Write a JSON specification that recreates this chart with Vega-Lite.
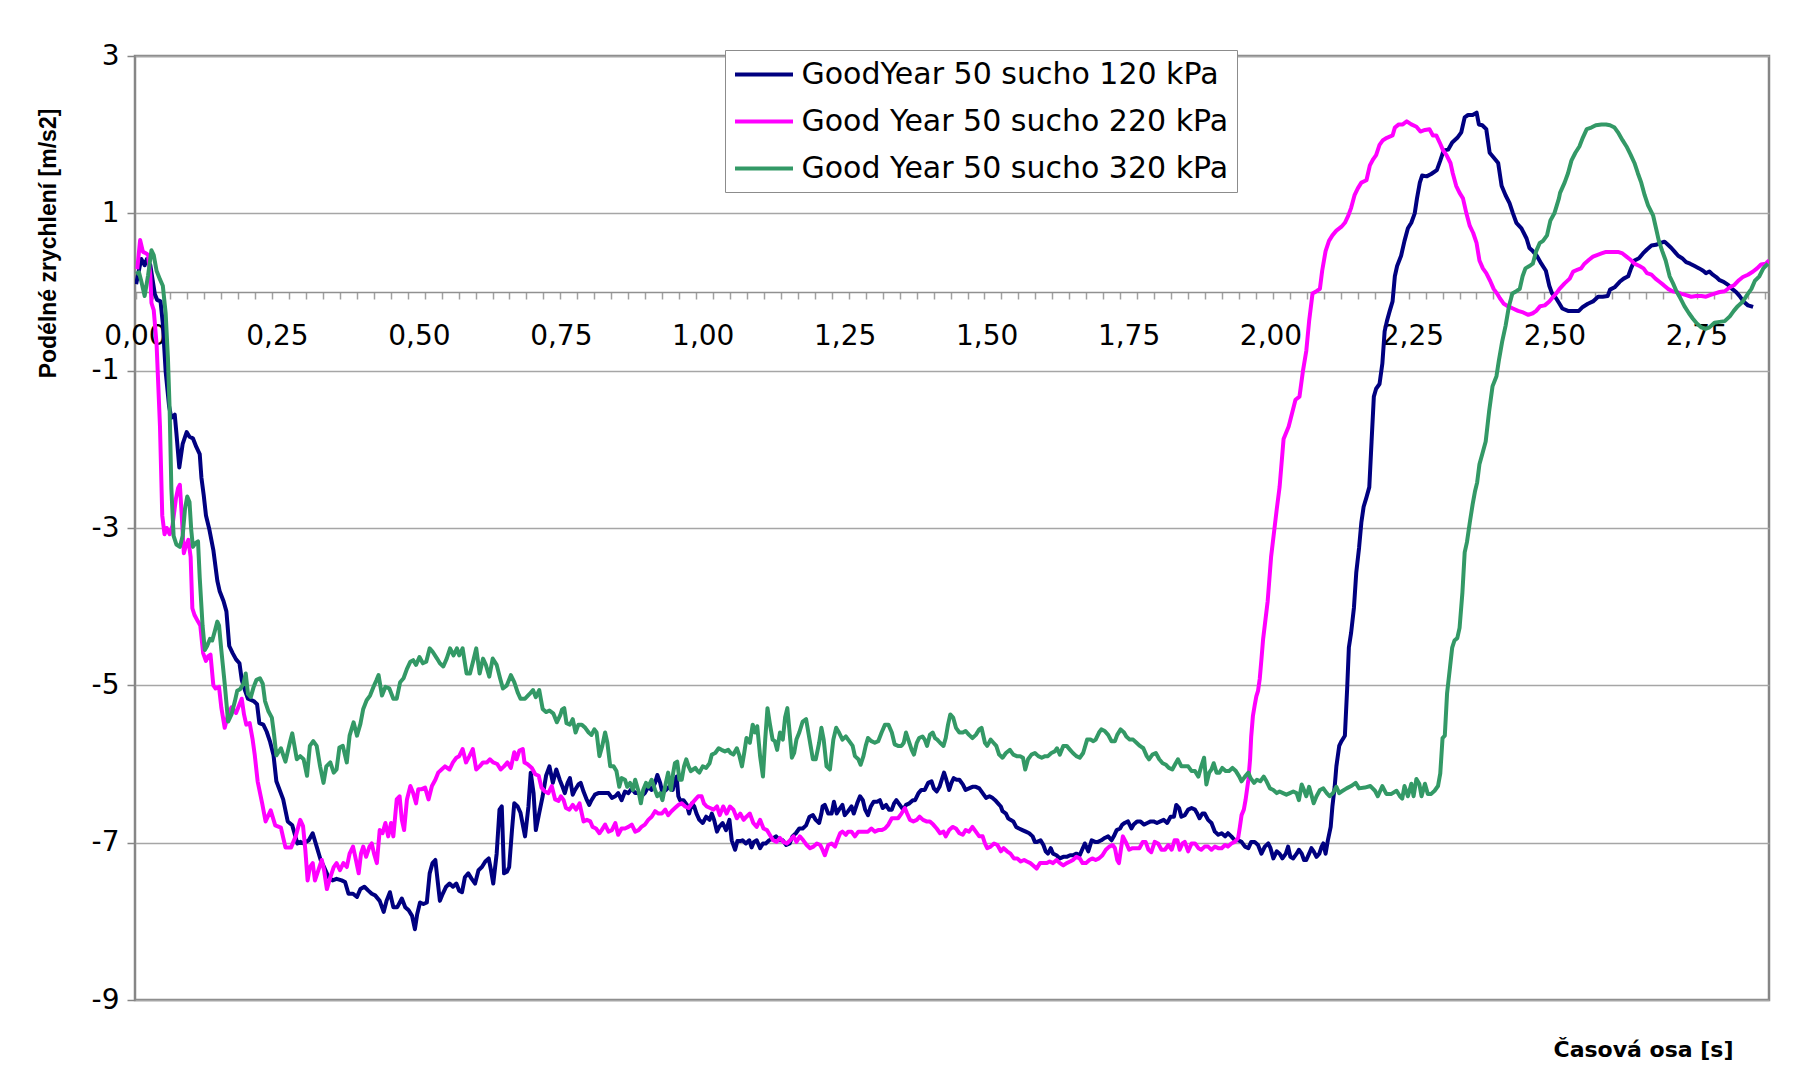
{
"$schema": "https://vega.github.io/schema/vega-lite/v6.json",
"width": 1634,
"height": 944,
"autosize": {"type": "none"},
"padding": {"left": 135, "top": 56, "right": 38, "bottom": 87},
"background": "white",
"config": {
  "view": {"stroke": "#868686", "strokeWidth": 2.5},
  "line": {"strokeWidth": 4, "clip": true, "strokeJoin": "round"}
},
"datasets": {
"a": [
{"t":0.002,"v":0.10},{"t":0.011,"v":0.42},{"t":0.017,"v":0.34},{"t":0.021,"v":0.42},{"t":0.027,"v":0.34},{"t":0.035,"v":-0.03},{"t":0.039,"v":-0.10},{"t":0.045,"v":-0.12},{"t":0.049,"v":-0.40},{"t":0.054,"v":-1.01},{"t":0.060,"v":-1.45},{"t":0.064,"v":-1.60},{"t":0.070,"v":-1.56},{"t":0.073,"v":-1.80},{"t":0.078,"v":-2.23},{"t":0.084,"v":-1.93},{"t":0.091,"v":-1.78},{"t":0.096,"v":-1.84},{"t":0.102,"v":-1.86},{"t":0.108,"v":-1.97},{"t":0.114,"v":-2.06},{"t":0.117,"v":-2.36},{"t":0.121,"v":-2.58},{"t":0.125,"v":-2.84},{"t":0.131,"v":-3.02},{"t":0.138,"v":-3.28},{"t":0.145,"v":-3.67},{"t":0.149,"v":-3.80},{"t":0.156,"v":-3.93},{"t":0.161,"v":-4.06},{"t":0.166,"v":-4.50},{"t":0.172,"v":-4.59},{"t":0.178,"v":-4.67},{"t":0.184,"v":-4.72},{"t":0.188,"v":-4.93},{"t":0.194,"v":-5.07},{"t":0.199,"v":-5.17},{"t":0.209,"v":-5.20},{"t":0.215,"v":-5.24},{"t":0.219,"v":-5.48},{"t":0.226,"v":-5.50},{"t":0.232,"v":-5.59},{"t":0.238,"v":-5.72},{"t":0.244,"v":-5.89},{"t":0.249,"v":-6.22},{"t":0.261,"v":-6.45},{"t":0.269,"v":-6.73},{"t":0.277,"v":-6.78},{"t":0.286,"v":-7.01},
{"t":0.291,"v":-6.99},{"t":0.297,"v":-7.01},{"t":0.306,"v":-6.97},{"t":0.313,"v":-6.88},{"t":0.320,"v":-7.05},{"t":0.327,"v":-7.22},{"t":0.333,"v":-7.31},{"t":0.341,"v":-7.44},{"t":0.348,"v":-7.48},{"t":0.355,"v":-7.46},{"t":0.364,"v":-7.48},{"t":0.370,"v":-7.50},{"t":0.376,"v":-7.65},{"t":0.384,"v":-7.65},{"t":0.391,"v":-7.69},{"t":0.397,"v":-7.59},{"t":0.404,"v":-7.56},{"t":0.411,"v":-7.61},{"t":0.417,"v":-7.65},{"t":0.423,"v":-7.67},{"t":0.431,"v":-7.74},{"t":0.438,"v":-7.88},{"t":0.443,"v":-7.74},{"t":0.449,"v":-7.63},{"t":0.455,"v":-7.82},{"t":0.462,"v":-7.82},{"t":0.470,"v":-7.71},{"t":0.476,"v":-7.82},{"t":0.482,"v":-7.86},{"t":0.488,"v":-7.93},{"t":0.493,"v":-8.10},{"t":0.497,"v":-7.91},{"t":0.502,"v":-7.76},{"t":0.508,"v":-7.78},{"t":0.514,"v":-7.76},{"t":0.519,"v":-7.39},{"t":0.524,"v":-7.26},{"t":0.529,"v":-7.22},{"t":0.533,"v":-7.48},{"t":0.537,"v":-7.74},{"t":0.542,"v":-7.65},{"t":0.548,"v":-7.56},{"t":0.554,"v":-7.52},{"t":0.560,"v":-7.56},{"t":0.566,"v":-7.52},{"t":0.571,"v":-7.61},{"t":0.576,"v":-7.63},{"t":0.581,"v":-7.44},{"t":0.587,"v":-7.39},{"t":0.593,"v":-7.46},{"t":0.599,"v":-7.52},{"t":0.605,"v":-7.35},{"t":0.611,"v":-7.31},{"t":0.617,"v":-7.24},{"t":0.623,"v":-7.20},{"t":0.627,"v":-7.35},{"t":0.631,"v":-7.52},{"t":0.637,"v":-7.14},{"t":0.642,"v":-6.58},{"t":0.646,"v":-6.54},{"t":0.650,"v":-7.39},{"t":0.655,"v":-7.37},{"t":0.659,"v":-7.31},{"t":0.664,"v":-6.84},{"t":0.668,"v":-6.50},{"t":0.674,"v":-6.54},{"t":0.679,"v":-6.62},{"t":0.687,"v":-6.92},{"t":0.693,"v":-6.54},{"t":0.697,"v":-6.11},{"t":0.702,"v":-6.37},{"t":0.706,"v":-6.84},{"t":0.712,"v":-6.62},{"t":0.718,"v":-6.41},{"t":0.724,"v":-6.15},{"t":0.730,"v":-6.03},{"t":0.736,"v":-6.24},{"t":0.742,"v":-6.07},{"t":0.748,"v":-6.20},
{"t":0.753,"v":-6.29},{"t":0.757,"v":-6.37},{"t":0.762,"v":-6.24},{"t":0.766,"v":-6.18},{"t":0.771,"v":-6.39},{"t":0.775,"v":-6.33},{"t":0.781,"v":-6.26},{"t":0.785,"v":-6.24},{"t":0.790,"v":-6.35},{"t":0.796,"v":-6.46},{"t":0.800,"v":-6.52},{"t":0.804,"v":-6.46},{"t":0.810,"v":-6.39},{"t":0.816,"v":-6.37},{"t":0.822,"v":-6.37},{"t":0.828,"v":-6.37},{"t":0.834,"v":-6.37},{"t":0.840,"v":-6.43},{"t":0.846,"v":-6.41},{"t":0.851,"v":-6.37},{"t":0.857,"v":-6.46},{"t":0.863,"v":-6.35},{"t":0.869,"v":-6.37},{"t":0.875,"v":-6.31},{"t":0.881,"v":-6.37},{"t":0.887,"v":-6.37},{"t":0.892,"v":-6.41},{"t":0.898,"v":-6.37},{"t":0.904,"v":-6.29},{"t":0.910,"v":-6.33},{"t":0.916,"v":-6.24},{"t":0.920,"v":-6.14},{"t":0.925,"v":-6.24},{"t":0.929,"v":-6.37},{"t":0.935,"v":-6.33},{"t":0.941,"v":-6.29},{"t":0.947,"v":-6.33},{"t":0.951,"v":-6.20},{"t":0.954,"v":-6.16},{"t":0.957,"v":-6.41},{"t":0.960,"v":-6.46},{"t":0.966,"v":-6.46},{"t":0.972,"v":-6.52},{"t":0.976,"v":-6.63},{"t":0.981,"v":-6.50},{"t":0.985,"v":-6.54},{"t":0.989,"v":-6.63},{"t":0.994,"v":-6.71},{"t":1.000,"v":-6.75},{"t":1.006,"v":-6.67},{"t":1.012,"v":-6.71},{"t":1.016,"v":-6.63},{"t":1.020,"v":-6.71},{"t":1.025,"v":-6.86},{"t":1.029,"v":-6.80},{"t":1.035,"v":-6.75},{"t":1.041,"v":-6.84},{"t":1.047,"v":-6.71},{"t":1.051,"v":-6.97},{"t":1.057,"v":-7.09},{"t":1.061,"v":-6.98},{"t":1.066,"v":-6.98},{"t":1.070,"v":-6.97},{"t":1.076,"v":-7.01},{"t":1.082,"v":-6.97},{"t":1.086,"v":-7.06},{"t":1.090,"v":-6.99},{"t":1.095,"v":-6.97},{"t":1.101,"v":-7.07},{"t":1.106,"v":-7.01},{"t":1.111,"v":-7.01},{"t":1.117,"v":-6.97},{"t":1.123,"v":-6.95},{"t":1.129,"v":-6.92},{"t":1.135,"v":-6.97},{"t":1.141,"v":-6.97},{"t":1.147,"v":-7.03},{"t":1.153,"v":-7.01},{"t":1.158,"v":-6.92},{"t":1.164,"v":-6.88},{"t":1.170,"v":-6.82},{"t":1.176,"v":-6.82},{"t":1.182,"v":-6.78},{"t":1.188,"v":-6.67},{"t":1.194,"v":-6.65},{"t":1.199,"v":-6.71},{"t":1.205,"v":-6.75},
{"t":1.209,"v":-6.63},{"t":1.211,"v":-6.54},{"t":1.215,"v":-6.52},{"t":1.221,"v":-6.63},{"t":1.227,"v":-6.63},{"t":1.231,"v":-6.48},{"t":1.236,"v":-6.63},{"t":1.240,"v":-6.58},{"t":1.246,"v":-6.52},{"t":1.250,"v":-6.65},{"t":1.256,"v":-6.60},{"t":1.262,"v":-6.54},{"t":1.266,"v":-6.63},{"t":1.272,"v":-6.50},{"t":1.277,"v":-6.41},{"t":1.282,"v":-6.46},{"t":1.286,"v":-6.58},{"t":1.291,"v":-6.65},{"t":1.296,"v":-6.54},{"t":1.301,"v":-6.48},{"t":1.307,"v":-6.48},{"t":1.312,"v":-6.46},{"t":1.317,"v":-6.56},{"t":1.323,"v":-6.52},{"t":1.328,"v":-6.58},{"t":1.333,"v":-6.58},{"t":1.337,"v":-6.50},{"t":1.341,"v":-6.46},{"t":1.347,"v":-6.52},{"t":1.353,"v":-6.58},{"t":1.358,"v":-6.52},{"t":1.364,"v":-6.50},{"t":1.370,"v":-6.46},{"t":1.374,"v":-6.46},{"t":1.380,"v":-6.37},{"t":1.385,"v":-6.33},{"t":1.391,"v":-6.33},{"t":1.397,"v":-6.24},{"t":1.403,"v":-6.22},{"t":1.407,"v":-6.31},{"t":1.412,"v":-6.35},{"t":1.417,"v":-6.29},{"t":1.421,"v":-6.20},{"t":1.425,"v":-6.11},{"t":1.429,"v":-6.20},{"t":1.434,"v":-6.33},{"t":1.438,"v":-6.24},{"t":1.442,"v":-6.18},{"t":1.447,"v":-6.20},{"t":1.452,"v":-6.20},{"t":1.458,"v":-6.26},{"t":1.463,"v":-6.33},{"t":1.469,"v":-6.31},{"t":1.475,"v":-6.29},{"t":1.481,"v":-6.29},{"t":1.487,"v":-6.31},{"t":1.493,"v":-6.37},{"t":1.499,"v":-6.43},{"t":1.505,"v":-6.41},{"t":1.510,"v":-6.43},{"t":1.515,"v":-6.46},{"t":1.520,"v":-6.50},{"t":1.525,"v":-6.54},{"t":1.528,"v":-6.60},{"t":1.534,"v":-6.63},{"t":1.538,"v":-6.69},{"t":1.542,"v":-6.71},{"t":1.547,"v":-6.73},{"t":1.552,"v":-6.80},{"t":1.557,"v":-6.82},{"t":1.563,"v":-6.84},{"t":1.569,"v":-6.86},{"t":1.575,"v":-6.88},{"t":1.581,"v":-6.92},{"t":1.585,"v":-6.99},{"t":1.589,"v":-6.99},{"t":1.595,"v":-6.97},{"t":1.600,"v":-7.03},{"t":1.604,"v":-7.11},{"t":1.608,"v":-7.14},{"t":1.613,"v":-7.07},{"t":1.617,"v":-7.14},{"t":1.623,"v":-7.16},{"t":1.629,"v":-7.20},{"t":1.635,"v":-7.18},{"t":1.641,"v":-7.18},{"t":1.647,"v":-7.16},{"t":1.652,"v":-7.16},{"t":1.658,"v":-7.14},{"t":1.664,"v":-7.16},
{"t":1.667,"v":-7.11},{"t":1.673,"v":-7.01},{"t":1.679,"v":-7.11},{"t":1.685,"v":-6.97},{"t":1.691,"v":-6.99},{"t":1.696,"v":-6.99},{"t":1.702,"v":-6.97},{"t":1.708,"v":-6.94},{"t":1.714,"v":-6.92},{"t":1.720,"v":-6.97},{"t":1.724,"v":-6.92},{"t":1.729,"v":-6.84},{"t":1.735,"v":-6.82},{"t":1.739,"v":-6.77},{"t":1.743,"v":-6.75},{"t":1.749,"v":-6.73},{"t":1.755,"v":-6.82},{"t":1.759,"v":-6.77},{"t":1.765,"v":-6.73},{"t":1.771,"v":-6.73},{"t":1.777,"v":-6.77},{"t":1.783,"v":-6.75},{"t":1.789,"v":-6.73},{"t":1.794,"v":-6.73},{"t":1.800,"v":-6.75},{"t":1.806,"v":-6.73},{"t":1.812,"v":-6.71},{"t":1.818,"v":-6.75},{"t":1.824,"v":-6.67},{"t":1.830,"v":-6.67},{"t":1.834,"v":-6.52},{"t":1.839,"v":-6.56},{"t":1.843,"v":-6.67},{"t":1.849,"v":-6.65},{"t":1.855,"v":-6.58},{"t":1.861,"v":-6.56},{"t":1.867,"v":-6.58},{"t":1.871,"v":-6.63},{"t":1.875,"v":-6.69},{"t":1.880,"v":-6.63},{"t":1.884,"v":-6.63},{"t":1.890,"v":-6.71},{"t":1.896,"v":-6.75},{"t":1.902,"v":-6.86},{"t":1.908,"v":-6.90},{"t":1.914,"v":-6.88},{"t":1.920,"v":-6.92},{"t":1.925,"v":-6.88},{"t":1.931,"v":-6.92},{"t":1.937,"v":-6.97},{"t":1.943,"v":-6.97},{"t":1.949,"v":-6.99},{"t":1.955,"v":-7.05},{"t":1.961,"v":-7.07},{"t":1.966,"v":-6.99},{"t":1.972,"v":-6.99},{"t":1.978,"v":-7.03},{"t":1.984,"v":-7.14},{"t":1.990,"v":-7.05},{"t":1.996,"v":-7.01},{"t":2.000,"v":-7.07},{"t":2.005,"v":-7.20},{"t":2.011,"v":-7.11},{"t":2.016,"v":-7.14},{"t":2.021,"v":-7.20},{"t":2.027,"v":-7.14},{"t":2.031,"v":-7.05},{"t":2.035,"v":-7.18},{"t":2.040,"v":-7.20},{"t":2.046,"v":-7.14},{"t":2.050,"v":-7.09},{"t":2.055,"v":-7.14},{"t":2.059,"v":-7.22},{"t":2.063,"v":-7.22},{"t":2.068,"v":-7.14},{"t":2.072,"v":-7.07},{"t":2.076,"v":-7.11},{"t":2.081,"v":-7.18},{"t":2.086,"v":-7.14},{"t":2.090,"v":-7.05},{"t":2.093,"v":-7.01},{"t":2.097,"v":-7.14},{"t":2.101,"v":-6.97},{"t":2.106,"v":-6.80},{"t":2.109,"v":-6.54},{"t":2.113,"v":-6.29},{"t":2.116,"v":-6.03},{"t":2.121,"v":-5.77},
{"t":2.125,"v":-5.71},{"t":2.131,"v":-5.64},{"t":2.135,"v":-5.04},{"t":2.138,"v":-4.52},{"t":2.142,"v":-4.33},{"t":2.147,"v":-4.01},{"t":2.151,"v":-3.57},{"t":2.156,"v":-3.25},{"t":2.160,"v":-2.93},{"t":2.164,"v":-2.73},{"t":2.169,"v":-2.61},{"t":2.174,"v":-2.48},{"t":2.178,"v":-1.90},{"t":2.182,"v":-1.33},{"t":2.186,"v":-1.23},{"t":2.192,"v":-1.17},{"t":2.197,"v":-0.91},{"t":2.201,"v":-0.50},{"t":2.205,"v":-0.37},{"t":2.210,"v":-0.24},{"t":2.215,"v":-0.12},{"t":2.219,"v":0.20},{"t":2.223,"v":0.33},{"t":2.230,"v":0.46},{"t":2.236,"v":0.65},{"t":2.242,"v":0.81},{"t":2.248,"v":0.88},{"t":2.254,"v":1.00},{"t":2.258,"v":1.19},{"t":2.263,"v":1.39},{"t":2.267,"v":1.48},{"t":2.275,"v":1.47},{"t":2.283,"v":1.50},{"t":2.293,"v":1.55},{"t":2.299,"v":1.67},{"t":2.305,"v":1.80},{"t":2.313,"v":1.81},{"t":2.320,"v":1.90},{"t":2.329,"v":1.96},{"t":2.336,"v":2.03},{"t":2.342,"v":2.22},{"t":2.348,"v":2.25},{"t":2.356,"v":2.25},{"t":2.363,"v":2.28},{"t":2.367,"v":2.13},{"t":2.373,"v":2.12},{"t":2.380,"v":2.07},{"t":2.386,"v":1.77},{"t":2.393,"v":1.71},{"t":2.401,"v":1.64},{"t":2.407,"v":1.35},{"t":2.414,"v":1.23},{"t":2.421,"v":1.13},{"t":2.427,"v":1.00},{"t":2.433,"v":0.88},{"t":2.442,"v":0.81},{"t":2.451,"v":0.68},{"t":2.456,"v":0.56},{"t":2.462,"v":0.52},{"t":2.469,"v":0.46},{"t":2.477,"v":0.36},{"t":2.485,"v":0.27},{"t":2.491,"v":0.08},{"t":2.496,"v":-0.02},{"t":2.503,"v":-0.08},{"t":2.509,"v":-0.15},
{"t":2.514,"v":-0.21},{"t":2.524,"v":-0.24},{"t":2.533,"v":-0.24},{"t":2.543,"v":-0.24},{"t":2.550,"v":-0.19},{"t":2.559,"v":-0.15},{"t":2.568,"v":-0.12},{"t":2.577,"v":-0.06},{"t":2.585,"v":-0.06},{"t":2.594,"v":-0.05},{"t":2.598,"v":0.03},{"t":2.606,"v":0.06},{"t":2.615,"v":0.13},{"t":2.622,"v":0.17},{"t":2.630,"v":0.20},{"t":2.635,"v":0.30},{"t":2.641,"v":0.40},{"t":2.649,"v":0.43},{"t":2.656,"v":0.49},{"t":2.663,"v":0.54},{"t":2.671,"v":0.59},{"t":2.679,"v":0.60},{"t":2.686,"v":0.62},{"t":2.694,"v":0.64},{"t":2.700,"v":0.60},{"t":2.706,"v":0.56},{"t":2.712,"v":0.51},{"t":2.718,"v":0.46},{"t":2.725,"v":0.43},{"t":2.732,"v":0.38},{"t":2.739,"v":0.36},{"t":2.747,"v":0.33},{"t":2.755,"v":0.30},{"t":2.762,"v":0.27},{"t":2.767,"v":0.24},{"t":2.773,"v":0.26},{"t":2.779,"v":0.22},{"t":2.785,"v":0.19},{"t":2.791,"v":0.15},{"t":2.798,"v":0.13},{"t":2.806,"v":0.09},{"t":2.813,"v":0.04},{"t":2.820,"v":0.00},{"t":2.826,"v":-0.05},{"t":2.833,"v":-0.12},{"t":2.841,"v":-0.17},{"t":2.850,"v":-0.19}
],
"b": [
{"t":0.004,"v":0.29},{"t":0.009,"v":0.66},{"t":0.014,"v":0.51},{"t":0.020,"v":0.49},{"t":0.023,"v":0.47},{"t":0.027,"v":0.21},{"t":0.029,"v":-0.14},{"t":0.033,"v":-0.23},{"t":0.038,"v":-0.66},{"t":0.044,"v":-1.71},{"t":0.048,"v":-2.84},{"t":0.052,"v":-3.08},{"t":0.056,"v":-3.00},{"t":0.061,"v":-3.08},{"t":0.066,"v":-2.97},{"t":0.072,"v":-2.63},{"t":0.076,"v":-2.49},{"t":0.079,"v":-2.45},{"t":0.082,"v":-2.80},{"t":0.086,"v":-3.32},{"t":0.089,"v":-3.24},{"t":0.094,"v":-3.15},{"t":0.098,"v":-3.37},{"t":0.101,"v":-4.02},{"t":0.105,"v":-4.11},{"t":0.111,"v":-4.19},{"t":0.115,"v":-4.24},{"t":0.120,"v":-4.59},{"t":0.125,"v":-4.69},{"t":0.129,"v":-4.63},{"t":0.133,"v":-4.61},{"t":0.138,"v":-5.00},{"t":0.142,"v":-5.04},{"t":0.148,"v":-5.02},{"t":0.152,"v":-5.28},{"t":0.158,"v":-5.54},{"t":0.164,"v":-5.37},{"t":0.170,"v":-5.28},{"t":0.178,"v":-5.35},{"t":0.182,"v":-5.28},{"t":0.188,"v":-5.17},{"t":0.192,"v":-5.37},{"t":0.196,"v":-5.50},{"t":0.202,"v":-5.48},{"t":0.207,"v":-5.68},{"t":0.211,"v":-5.89},{"t":0.216,"v":-6.22},{"t":0.224,"v":-6.50},{"t":0.230,"v":-6.73},{"t":0.239,"v":-6.59},{"t":0.247,"v":-6.78},{"t":0.257,"v":-6.81},{"t":0.265,"v":-7.06},{"t":0.275,"v":-7.06},{"t":0.283,"v":-6.92},
{"t":0.291,"v":-6.71},{"t":0.296,"v":-6.79},{"t":0.300,"v":-7.09},{"t":0.304,"v":-7.48},{"t":0.308,"v":-7.31},{"t":0.313,"v":-7.26},{"t":0.317,"v":-7.48},{"t":0.323,"v":-7.35},{"t":0.329,"v":-7.22},{"t":0.333,"v":-7.35},{"t":0.338,"v":-7.59},{"t":0.344,"v":-7.44},{"t":0.350,"v":-7.31},{"t":0.355,"v":-7.26},{"t":0.361,"v":-7.35},{"t":0.367,"v":-7.26},{"t":0.373,"v":-7.31},{"t":0.378,"v":-7.14},{"t":0.384,"v":-7.05},{"t":0.388,"v":-7.18},{"t":0.394,"v":-7.39},{"t":0.398,"v":-7.14},{"t":0.402,"v":-7.05},{"t":0.407,"v":-7.18},{"t":0.413,"v":-7.05},{"t":0.417,"v":-7.01},{"t":0.421,"v":-7.14},{"t":0.426,"v":-7.26},{"t":0.431,"v":-6.84},{"t":0.436,"v":-6.88},{"t":0.441,"v":-6.75},{"t":0.446,"v":-6.92},{"t":0.451,"v":-6.75},{"t":0.455,"v":-6.92},{"t":0.461,"v":-6.45},{"t":0.466,"v":-6.41},{"t":0.470,"v":-6.71},{"t":0.474,"v":-6.84},{"t":0.479,"v":-6.45},{"t":0.485,"v":-6.28},{"t":0.490,"v":-6.37},{"t":0.495,"v":-6.50},{"t":0.499,"v":-6.32},{"t":0.505,"v":-6.32},{"t":0.511,"v":-6.30},{"t":0.517,"v":-6.45},{"t":0.523,"v":-6.28},{"t":0.529,"v":-6.20},{"t":0.534,"v":-6.11},{"t":0.540,"v":-6.07},{"t":0.546,"v":-6.03},{"t":0.554,"v":-6.07},{"t":0.560,"v":-5.98},{"t":0.566,"v":-5.92},{"t":0.571,"v":-5.90},{"t":0.577,"v":-5.81},{"t":0.583,"v":-5.98},{"t":0.589,"v":-5.90},{"t":0.595,"v":-5.81},{"t":0.601,"v":-6.07},{"t":0.607,"v":-6.03},{"t":0.613,"v":-5.98},{"t":0.620,"v":-5.98},{"t":0.625,"v":-5.94},{"t":0.631,"v":-5.98},{"t":0.638,"v":-6.00},{"t":0.644,"v":-6.07},{"t":0.650,"v":-6.03},{"t":0.656,"v":-5.98},{"t":0.662,"v":-6.05},{"t":0.668,"v":-5.85},{"t":0.672,"v":-5.94},{"t":0.677,"v":-5.83},{"t":0.683,"v":-5.81},{"t":0.686,"v":-5.98},{"t":0.691,"v":-6.00},{"t":0.699,"v":-6.05},{"t":0.705,"v":-6.13},{"t":0.711,"v":-6.15},{"t":0.716,"v":-6.30},{"t":0.722,"v":-6.35},{"t":0.728,"v":-6.37},{"t":0.734,"v":-6.28},{"t":0.740,"v":-6.45},{"t":0.746,"v":-6.47},
{"t":0.750,"v":-6.41},{"t":0.755,"v":-6.46},{"t":0.759,"v":-6.56},{"t":0.765,"v":-6.58},{"t":0.771,"v":-6.52},{"t":0.777,"v":-6.58},{"t":0.783,"v":-6.50},{"t":0.787,"v":-6.63},{"t":0.790,"v":-6.73},{"t":0.796,"v":-6.71},{"t":0.802,"v":-6.73},{"t":0.806,"v":-6.80},{"t":0.812,"v":-6.82},{"t":0.818,"v":-6.88},{"t":0.822,"v":-6.84},{"t":0.828,"v":-6.77},{"t":0.834,"v":-6.86},{"t":0.840,"v":-6.84},{"t":0.846,"v":-6.75},{"t":0.851,"v":-6.90},{"t":0.857,"v":-6.82},{"t":0.863,"v":-6.82},{"t":0.869,"v":-6.80},{"t":0.875,"v":-6.77},{"t":0.881,"v":-6.86},{"t":0.887,"v":-6.84},{"t":0.892,"v":-6.80},{"t":0.898,"v":-6.77},{"t":0.904,"v":-6.71},{"t":0.910,"v":-6.67},{"t":0.916,"v":-6.60},{"t":0.922,"v":-6.63},{"t":0.928,"v":-6.63},{"t":0.934,"v":-6.58},{"t":0.939,"v":-6.65},{"t":0.945,"v":-6.60},{"t":0.951,"v":-6.56},{"t":0.957,"v":-6.52},{"t":0.963,"v":-6.50},{"t":0.969,"v":-6.54},{"t":0.975,"v":-6.56},{"t":0.981,"v":-6.50},{"t":0.986,"v":-6.46},{"t":0.992,"v":-6.41},{"t":0.998,"v":-6.41},{"t":1.002,"v":-6.50},{"t":1.007,"v":-6.54},{"t":1.013,"v":-6.56},{"t":1.019,"v":-6.58},{"t":1.025,"v":-6.54},{"t":1.030,"v":-6.65},{"t":1.036,"v":-6.54},{"t":1.042,"v":-6.63},{"t":1.048,"v":-6.54},{"t":1.054,"v":-6.58},{"t":1.060,"v":-6.69},{"t":1.066,"v":-6.63},{"t":1.072,"v":-6.71},{"t":1.077,"v":-6.67},{"t":1.083,"v":-6.63},{"t":1.089,"v":-6.75},{"t":1.095,"v":-6.80},{"t":1.101,"v":-6.71},{"t":1.107,"v":-6.82},{"t":1.113,"v":-6.84},{"t":1.118,"v":-6.90},{"t":1.124,"v":-6.97},{"t":1.130,"v":-6.99},{"t":1.136,"v":-6.94},{"t":1.142,"v":-6.99},{"t":1.148,"v":-7.01},{"t":1.154,"v":-6.97},{"t":1.160,"v":-6.92},{"t":1.165,"v":-6.99},{"t":1.171,"v":-6.92},{"t":1.177,"v":-6.97},{"t":1.183,"v":-7.03},{"t":1.189,"v":-7.07},{"t":1.195,"v":-7.05},{"t":1.201,"v":-7.01},{"t":1.207,"v":-7.03},
{"t":1.211,"v":-7.09},{"t":1.215,"v":-7.16},{"t":1.221,"v":-7.03},{"t":1.227,"v":-7.01},{"t":1.233,"v":-7.05},{"t":1.237,"v":-6.97},{"t":1.242,"v":-6.88},{"t":1.246,"v":-6.86},{"t":1.252,"v":-6.90},{"t":1.256,"v":-6.86},{"t":1.262,"v":-6.86},{"t":1.268,"v":-6.92},{"t":1.274,"v":-6.86},{"t":1.280,"v":-6.86},{"t":1.286,"v":-6.86},{"t":1.291,"v":-6.86},{"t":1.297,"v":-6.82},{"t":1.303,"v":-6.86},{"t":1.309,"v":-6.84},{"t":1.315,"v":-6.84},{"t":1.321,"v":-6.82},{"t":1.327,"v":-6.77},{"t":1.333,"v":-6.69},{"t":1.338,"v":-6.69},{"t":1.344,"v":-6.69},{"t":1.350,"v":-6.63},{"t":1.356,"v":-6.56},{"t":1.360,"v":-6.63},{"t":1.365,"v":-6.71},{"t":1.371,"v":-6.73},{"t":1.377,"v":-6.71},{"t":1.382,"v":-6.67},{"t":1.388,"v":-6.71},{"t":1.394,"v":-6.73},{"t":1.400,"v":-6.73},{"t":1.406,"v":-6.77},{"t":1.412,"v":-6.82},{"t":1.418,"v":-6.88},{"t":1.424,"v":-6.86},{"t":1.428,"v":-6.92},{"t":1.434,"v":-6.84},{"t":1.440,"v":-6.80},{"t":1.446,"v":-6.82},{"t":1.452,"v":-6.88},{"t":1.458,"v":-6.90},{"t":1.463,"v":-6.84},{"t":1.469,"v":-6.86},{"t":1.475,"v":-6.80},{"t":1.481,"v":-6.86},{"t":1.487,"v":-6.92},{"t":1.493,"v":-6.92},{"t":1.497,"v":-7.01},{"t":1.501,"v":-7.07},{"t":1.507,"v":-7.05},{"t":1.513,"v":-7.01},{"t":1.519,"v":-7.03},{"t":1.525,"v":-7.11},{"t":1.530,"v":-7.07},{"t":1.536,"v":-7.11},{"t":1.542,"v":-7.14},{"t":1.548,"v":-7.20},{"t":1.554,"v":-7.20},{"t":1.560,"v":-7.24},{"t":1.566,"v":-7.22},{"t":1.571,"v":-7.24},{"t":1.577,"v":-7.26},{"t":1.582,"v":-7.29},{"t":1.588,"v":-7.33},{"t":1.594,"v":-7.26},{"t":1.600,"v":-7.26},{"t":1.606,"v":-7.26},{"t":1.611,"v":-7.24},{"t":1.617,"v":-7.26},{"t":1.623,"v":-7.22},{"t":1.629,"v":-7.26},{"t":1.635,"v":-7.29},{"t":1.641,"v":-7.26},{"t":1.647,"v":-7.24},{"t":1.652,"v":-7.22},{"t":1.658,"v":-7.18},{"t":1.664,"v":-7.20},
{"t":1.669,"v":-7.26},{"t":1.675,"v":-7.26},{"t":1.681,"v":-7.22},{"t":1.686,"v":-7.20},{"t":1.692,"v":-7.22},{"t":1.698,"v":-7.20},{"t":1.704,"v":-7.16},{"t":1.710,"v":-7.09},{"t":1.716,"v":-7.05},{"t":1.722,"v":-7.03},{"t":1.726,"v":-7.07},{"t":1.730,"v":-7.22},{"t":1.733,"v":-7.26},{"t":1.738,"v":-7.01},{"t":1.740,"v":-6.92},{"t":1.745,"v":-6.99},{"t":1.751,"v":-7.09},{"t":1.757,"v":-7.07},{"t":1.763,"v":-7.07},{"t":1.769,"v":-7.07},{"t":1.775,"v":-6.99},{"t":1.780,"v":-6.99},{"t":1.785,"v":-7.09},{"t":1.790,"v":-7.12},{"t":1.796,"v":-6.99},{"t":1.802,"v":-7.01},{"t":1.808,"v":-7.09},{"t":1.814,"v":-7.09},{"t":1.820,"v":-7.03},{"t":1.826,"v":-7.09},{"t":1.831,"v":-6.97},{"t":1.836,"v":-6.97},{"t":1.840,"v":-7.09},{"t":1.845,"v":-7.01},{"t":1.849,"v":-6.99},{"t":1.855,"v":-7.11},{"t":1.861,"v":-7.01},{"t":1.867,"v":-7.01},{"t":1.873,"v":-7.07},{"t":1.878,"v":-7.09},{"t":1.884,"v":-7.05},{"t":1.890,"v":-7.05},{"t":1.896,"v":-7.09},{"t":1.902,"v":-7.05},{"t":1.908,"v":-7.07},{"t":1.914,"v":-7.07},{"t":1.920,"v":-7.03},{"t":1.925,"v":-7.05},{"t":1.931,"v":-7.01},{"t":1.937,"v":-6.99},{"t":1.943,"v":-6.94},{"t":1.946,"v":-6.80},{"t":1.949,"v":-6.65},{"t":1.953,"v":-6.58},{"t":1.956,"v":-6.46},{"t":1.961,"v":-6.20},{"t":1.964,"v":-5.94},{"t":1.966,"v":-5.65},{"t":1.969,"v":-5.39},{"t":1.972,"v":-5.26},{"t":1.975,"v":-5.14},{"t":1.978,"v":-5.07},{"t":1.981,"v":-4.92},{"t":1.984,"v":-4.67},{"t":1.987,"v":-4.41},{"t":1.995,"v":-3.93},{"t":2.001,"v":-3.37},{"t":2.011,"v":-2.76},{"t":2.016,"v":-2.48},{"t":2.023,"v":-1.87},{"t":2.032,"v":-1.71},{"t":2.044,"v":-1.37},
{"t":2.051,"v":-1.33},{"t":2.057,"v":-1.01},{"t":2.063,"v":-0.75},{"t":2.068,"v":-0.37},{"t":2.074,"v":-0.02},{"t":2.081,"v":0.01},{"t":2.087,"v":0.04},{"t":2.091,"v":0.27},{"t":2.097,"v":0.52},{"t":2.103,"v":0.65},{"t":2.109,"v":0.72},{"t":2.116,"v":0.78},{"t":2.125,"v":0.83},{"t":2.131,"v":0.88},{"t":2.137,"v":0.97},{"t":2.142,"v":1.07},{"t":2.148,"v":1.23},{"t":2.154,"v":1.32},{"t":2.160,"v":1.39},{"t":2.169,"v":1.42},{"t":2.175,"v":1.61},{"t":2.181,"v":1.69},{"t":2.186,"v":1.74},{"t":2.192,"v":1.87},{"t":2.198,"v":1.93},{"t":2.205,"v":1.96},{"t":2.215,"v":1.99},{"t":2.219,"v":2.09},{"t":2.226,"v":2.13},{"t":2.233,"v":2.13},{"t":2.240,"v":2.17},{"t":2.248,"v":2.13},{"t":2.257,"v":2.10},{"t":2.264,"v":2.04},{"t":2.272,"v":2.06},{"t":2.280,"v":2.07},{"t":2.286,"v":1.99},{"t":2.292,"v":1.99},{"t":2.298,"v":1.90},{"t":2.304,"v":1.80},{"t":2.310,"v":1.74},{"t":2.317,"v":1.64},{"t":2.321,"v":1.51},{"t":2.327,"v":1.35},{"t":2.333,"v":1.26},{"t":2.339,"v":1.19},{"t":2.345,"v":1.00},{"t":2.351,"v":0.84},{"t":2.357,"v":0.75},{"t":2.363,"v":0.62},{"t":2.368,"v":0.40},{"t":2.374,"v":0.30},{"t":2.380,"v":0.24},{"t":2.387,"v":0.14},{"t":2.393,"v":0.04},{"t":2.399,"v":-0.02},{"t":2.404,"v":-0.08},{"t":2.411,"v":-0.15},{"t":2.418,"v":-0.18},{"t":2.427,"v":-0.21},{"t":2.436,"v":-0.24},{"t":2.445,"v":-0.26},{"t":2.454,"v":-0.29},{"t":2.462,"v":-0.27},{"t":2.468,"v":-0.24},{"t":2.475,"v":-0.18},{"t":2.483,"v":-0.17},{"t":2.491,"v":-0.12},{"t":2.498,"v":-0.06},{"t":2.503,"v":-0.02},{"t":2.509,"v":0.04},
{"t":2.518,"v":0.11},{"t":2.527,"v":0.17},{"t":2.533,"v":0.26},{"t":2.540,"v":0.28},{"t":2.547,"v":0.30},{"t":2.553,"v":0.36},{"t":2.561,"v":0.41},{"t":2.568,"v":0.45},{"t":2.575,"v":0.47},{"t":2.583,"v":0.49},{"t":2.591,"v":0.51},{"t":2.600,"v":0.51},{"t":2.612,"v":0.51},{"t":2.620,"v":0.49},{"t":2.627,"v":0.45},{"t":2.634,"v":0.41},{"t":2.641,"v":0.36},{"t":2.650,"v":0.33},{"t":2.657,"v":0.30},{"t":2.663,"v":0.24},{"t":2.671,"v":0.22},{"t":2.678,"v":0.17},{"t":2.685,"v":0.13},{"t":2.692,"v":0.09},{"t":2.700,"v":0.04},{"t":2.708,"v":0.01},{"t":2.715,"v":0.00},{"t":2.723,"v":-0.02},{"t":2.732,"v":-0.04},{"t":2.741,"v":-0.06},{"t":2.750,"v":-0.05},{"t":2.759,"v":-0.05},{"t":2.767,"v":-0.06},{"t":2.774,"v":-0.04},{"t":2.782,"v":-0.02},{"t":2.791,"v":0.00},{"t":2.800,"v":0.01},{"t":2.809,"v":0.06},{"t":2.817,"v":0.09},{"t":2.825,"v":0.15},{"t":2.832,"v":0.19},{"t":2.841,"v":0.22},{"t":2.850,"v":0.26},{"t":2.857,"v":0.30},{"t":2.864,"v":0.35},{"t":2.872,"v":0.36},{"t":2.878,"v":0.40}
],
"c": [
{"t":0.002,"v":0.23},{"t":0.007,"v":0.25},{"t":0.011,"v":0.14},{"t":0.017,"v":-0.05},{"t":0.023,"v":0.21},{"t":0.029,"v":0.53},{"t":0.033,"v":0.47},{"t":0.038,"v":0.27},{"t":0.044,"v":0.16},{"t":0.049,"v":0.08},{"t":0.054,"v":-0.27},{"t":0.058,"v":-0.84},{"t":0.061,"v":-1.49},{"t":0.064,"v":-2.49},{"t":0.068,"v":-3.10},{"t":0.073,"v":-3.21},{"t":0.079,"v":-3.24},{"t":0.084,"v":-3.10},{"t":0.088,"v":-2.76},{"t":0.092,"v":-2.60},{"t":0.096,"v":-2.67},{"t":0.099,"v":-3.02},{"t":0.102,"v":-3.24},{"t":0.107,"v":-3.19},{"t":0.111,"v":-3.17},{"t":0.114,"v":-3.63},{"t":0.119,"v":-4.24},{"t":0.123,"v":-4.55},{"t":0.127,"v":-4.50},{"t":0.132,"v":-4.41},{"t":0.136,"v":-4.43},{"t":0.141,"v":-4.30},{"t":0.145,"v":-4.19},{"t":0.148,"v":-4.24},{"t":0.152,"v":-4.55},{"t":0.158,"v":-4.98},{"t":0.164,"v":-5.46},{"t":0.170,"v":-5.37},{"t":0.176,"v":-5.20},{"t":0.180,"v":-5.07},{"t":0.185,"v":-5.05},{"t":0.191,"v":-4.98},{"t":0.195,"v":-4.85},{"t":0.199,"v":-5.11},{"t":0.204,"v":-5.15},{"t":0.209,"v":-5.02},{"t":0.214,"v":-4.93},{"t":0.220,"v":-4.91},{"t":0.225,"v":-4.98},{"t":0.229,"v":-5.20},{"t":0.235,"v":-5.33},{"t":0.241,"v":-5.41},{"t":0.245,"v":-5.63},{"t":0.249,"v":-5.89},{"t":0.257,"v":-5.80},{"t":0.265,"v":-5.97},{"t":0.273,"v":-5.72},{"t":0.277,"v":-5.61},{"t":0.285,"v":-5.94},
{"t":0.291,"v":-5.90},{"t":0.297,"v":-5.94},{"t":0.303,"v":-6.15},{"t":0.308,"v":-5.77},{"t":0.314,"v":-5.71},{"t":0.320,"v":-5.77},{"t":0.326,"v":-6.03},{"t":0.332,"v":-6.24},{"t":0.337,"v":-6.03},{"t":0.344,"v":-5.98},{"t":0.350,"v":-6.11},{"t":0.355,"v":-6.07},{"t":0.360,"v":-5.79},{"t":0.366,"v":-5.77},{"t":0.373,"v":-5.98},{"t":0.378,"v":-5.64},{"t":0.385,"v":-5.47},{"t":0.391,"v":-5.64},{"t":0.397,"v":-5.49},{"t":0.402,"v":-5.30},{"t":0.408,"v":-5.19},{"t":0.414,"v":-5.13},{"t":0.420,"v":-5.02},{"t":0.425,"v":-4.94},{"t":0.429,"v":-4.87},{"t":0.435,"v":-5.13},{"t":0.441,"v":-5.02},{"t":0.448,"v":-5.04},{"t":0.455,"v":-5.17},{"t":0.461,"v":-5.17},{"t":0.467,"v":-4.96},{"t":0.473,"v":-4.91},{"t":0.479,"v":-4.79},{"t":0.485,"v":-4.70},{"t":0.490,"v":-4.68},{"t":0.495,"v":-4.74},{"t":0.501,"v":-4.64},{"t":0.507,"v":-4.72},{"t":0.513,"v":-4.70},{"t":0.519,"v":-4.53},{"t":0.524,"v":-4.57},{"t":0.532,"v":-4.66},{"t":0.537,"v":-4.72},{"t":0.543,"v":-4.76},{"t":0.549,"v":-4.66},{"t":0.555,"v":-4.53},{"t":0.561,"v":-4.62},{"t":0.567,"v":-4.53},{"t":0.571,"v":-4.62},{"t":0.577,"v":-4.53},{"t":0.584,"v":-4.85},{"t":0.590,"v":-4.85},{"t":0.596,"v":-4.68},{"t":0.601,"v":-4.53},{"t":0.607,"v":-4.85},{"t":0.613,"v":-4.66},{"t":0.618,"v":-4.74},{"t":0.624,"v":-4.89},{"t":0.630,"v":-4.66},{"t":0.637,"v":-4.74},{"t":0.643,"v":-4.91},{"t":0.648,"v":-5.04},{"t":0.655,"v":-5.00},{"t":0.662,"v":-4.87},{"t":0.668,"v":-4.96},{"t":0.674,"v":-5.09},{"t":0.679,"v":-5.17},{"t":0.687,"v":-5.17},{"t":0.695,"v":-5.11},{"t":0.701,"v":-5.06},{"t":0.706,"v":-5.15},{"t":0.712,"v":-5.06},{"t":0.718,"v":-5.30},{"t":0.724,"v":-5.34},{"t":0.730,"v":-5.32},{"t":0.737,"v":-5.36},{"t":0.743,"v":-5.47},{"t":0.749,"v":-5.38},
{"t":0.752,"v":-5.31},{"t":0.756,"v":-5.29},{"t":0.760,"v":-5.48},{"t":0.766,"v":-5.50},{"t":0.771,"v":-5.43},{"t":0.776,"v":-5.60},{"t":0.781,"v":-5.50},{"t":0.787,"v":-5.50},{"t":0.793,"v":-5.54},{"t":0.799,"v":-5.60},{"t":0.804,"v":-5.63},{"t":0.809,"v":-5.56},{"t":0.813,"v":-5.60},{"t":0.818,"v":-5.90},{"t":0.823,"v":-5.77},{"t":0.828,"v":-5.60},{"t":0.832,"v":-5.73},{"t":0.837,"v":-6.03},{"t":0.843,"v":-6.03},{"t":0.848,"v":-6.09},{"t":0.853,"v":-6.29},{"t":0.857,"v":-6.18},{"t":0.863,"v":-6.20},{"t":0.867,"v":-6.29},{"t":0.872,"v":-6.24},{"t":0.877,"v":-6.33},{"t":0.881,"v":-6.20},{"t":0.887,"v":-6.35},{"t":0.891,"v":-6.50},{"t":0.895,"v":-6.33},{"t":0.900,"v":-6.24},{"t":0.904,"v":-6.29},{"t":0.910,"v":-6.20},{"t":0.916,"v":-6.33},{"t":0.920,"v":-6.41},{"t":0.925,"v":-6.37},{"t":0.929,"v":-6.46},{"t":0.935,"v":-6.24},{"t":0.939,"v":-6.11},{"t":0.944,"v":-6.33},{"t":0.948,"v":-6.11},{"t":0.951,"v":-5.99},{"t":0.955,"v":-5.97},{"t":0.959,"v":-6.20},{"t":0.963,"v":-6.20},{"t":0.967,"v":-6.03},{"t":0.971,"v":-5.94},{"t":0.975,"v":-6.03},{"t":0.979,"v":-6.09},{"t":0.983,"v":-6.07},{"t":0.987,"v":-6.05},{"t":0.991,"v":-6.09},{"t":0.994,"v":-6.11},{"t":1.000,"v":-6.03},{"t":1.006,"v":-6.05},{"t":1.012,"v":-5.99},{"t":1.016,"v":-5.88},{"t":1.022,"v":-5.86},{"t":1.028,"v":-5.80},{"t":1.033,"v":-5.82},{"t":1.039,"v":-5.84},{"t":1.045,"v":-5.82},{"t":1.049,"v":-5.86},{"t":1.054,"v":-5.88},{"t":1.060,"v":-5.80},{"t":1.064,"v":-5.88},{"t":1.069,"v":-6.03},{"t":1.073,"v":-5.86},{"t":1.077,"v":-5.67},{"t":1.083,"v":-5.73},{"t":1.088,"v":-5.50},{"t":1.092,"v":-5.60},{"t":1.096,"v":-5.52},{"t":1.101,"v":-5.90},{"t":1.106,"v":-6.16},{"t":1.110,"v":-5.69},{"t":1.114,"v":-5.29},{"t":1.118,"v":-5.48},{"t":1.123,"v":-5.69},{"t":1.127,"v":-5.71},{"t":1.131,"v":-5.82},{"t":1.136,"v":-5.60},{"t":1.141,"v":-5.69},{"t":1.145,"v":-5.41},{"t":1.149,"v":-5.29},{"t":1.153,"v":-5.60},{"t":1.157,"v":-5.92},{"t":1.161,"v":-5.86},{"t":1.165,"v":-5.69},{"t":1.170,"v":-5.60},{"t":1.176,"v":-5.46},{"t":1.182,"v":-5.43},{"t":1.186,"v":-5.60},{"t":1.190,"v":-5.77},{"t":1.194,"v":-5.94},{"t":1.199,"v":-5.94},{"t":1.205,"v":-5.73},
{"t":1.209,"v":-5.54},{"t":1.213,"v":-5.69},{"t":1.218,"v":-6.03},{"t":1.224,"v":-6.07},{"t":1.230,"v":-5.69},{"t":1.235,"v":-5.54},{"t":1.240,"v":-5.60},{"t":1.246,"v":-5.69},{"t":1.252,"v":-5.65},{"t":1.258,"v":-5.71},{"t":1.264,"v":-5.77},{"t":1.268,"v":-5.90},{"t":1.274,"v":-5.94},{"t":1.278,"v":-6.01},{"t":1.283,"v":-5.90},{"t":1.287,"v":-5.77},{"t":1.291,"v":-5.67},{"t":1.297,"v":-5.71},{"t":1.303,"v":-5.73},{"t":1.309,"v":-5.71},{"t":1.315,"v":-5.60},{"t":1.321,"v":-5.50},{"t":1.327,"v":-5.50},{"t":1.333,"v":-5.60},{"t":1.338,"v":-5.75},{"t":1.344,"v":-5.77},{"t":1.350,"v":-5.77},{"t":1.354,"v":-5.73},{"t":1.358,"v":-5.60},{"t":1.362,"v":-5.69},{"t":1.368,"v":-5.82},{"t":1.372,"v":-5.88},{"t":1.377,"v":-5.73},{"t":1.381,"v":-5.67},{"t":1.387,"v":-5.65},{"t":1.391,"v":-5.69},{"t":1.395,"v":-5.77},{"t":1.400,"v":-5.63},{"t":1.405,"v":-5.60},{"t":1.409,"v":-5.67},{"t":1.413,"v":-5.69},{"t":1.418,"v":-5.73},{"t":1.424,"v":-5.77},{"t":1.428,"v":-5.67},{"t":1.432,"v":-5.50},{"t":1.436,"v":-5.37},{"t":1.441,"v":-5.41},{"t":1.446,"v":-5.54},{"t":1.452,"v":-5.60},{"t":1.458,"v":-5.60},{"t":1.463,"v":-5.58},{"t":1.469,"v":-5.63},{"t":1.475,"v":-5.67},{"t":1.481,"v":-5.63},{"t":1.487,"v":-5.56},{"t":1.491,"v":-5.54},{"t":1.497,"v":-5.73},{"t":1.501,"v":-5.77},{"t":1.507,"v":-5.69},{"t":1.512,"v":-5.73},{"t":1.517,"v":-5.77},{"t":1.522,"v":-5.88},{"t":1.528,"v":-5.92},{"t":1.534,"v":-5.86},{"t":1.541,"v":-5.82},{"t":1.547,"v":-5.88},{"t":1.553,"v":-5.90},{"t":1.559,"v":-5.90},{"t":1.564,"v":-5.92},{"t":1.568,"v":-6.07},{"t":1.573,"v":-5.94},{"t":1.579,"v":-5.88},{"t":1.585,"v":-5.86},{"t":1.591,"v":-5.90},{"t":1.597,"v":-5.92},{"t":1.603,"v":-5.90},{"t":1.608,"v":-5.90},{"t":1.614,"v":-5.86},{"t":1.620,"v":-5.84},{"t":1.624,"v":-5.80},{"t":1.629,"v":-5.88},{"t":1.635,"v":-5.77},{"t":1.641,"v":-5.77},{"t":1.647,"v":-5.82},{"t":1.652,"v":-5.86},{"t":1.658,"v":-5.90},{"t":1.664,"v":-5.92},
{"t":1.670,"v":-5.86},{"t":1.677,"v":-5.69},{"t":1.683,"v":-5.69},{"t":1.688,"v":-5.71},{"t":1.692,"v":-5.69},{"t":1.698,"v":-5.60},{"t":1.702,"v":-5.56},{"t":1.708,"v":-5.58},{"t":1.714,"v":-5.63},{"t":1.720,"v":-5.71},{"t":1.726,"v":-5.71},{"t":1.730,"v":-5.63},{"t":1.736,"v":-5.56},{"t":1.742,"v":-5.60},{"t":1.746,"v":-5.65},{"t":1.752,"v":-5.69},{"t":1.758,"v":-5.69},{"t":1.764,"v":-5.73},{"t":1.770,"v":-5.77},{"t":1.776,"v":-5.80},{"t":1.782,"v":-5.90},{"t":1.786,"v":-5.94},{"t":1.792,"v":-5.88},{"t":1.798,"v":-5.86},{"t":1.804,"v":-5.94},{"t":1.810,"v":-5.99},{"t":1.816,"v":-6.01},{"t":1.821,"v":-6.05},{"t":1.827,"v":-6.07},{"t":1.833,"v":-5.99},{"t":1.837,"v":-5.94},{"t":1.843,"v":-6.03},{"t":1.849,"v":-6.03},{"t":1.855,"v":-6.03},{"t":1.861,"v":-6.09},{"t":1.867,"v":-6.09},{"t":1.873,"v":-6.16},{"t":1.878,"v":-6.03},{"t":1.883,"v":-5.92},{"t":1.887,"v":-6.26},{"t":1.892,"v":-6.11},{"t":1.896,"v":-6.07},{"t":1.900,"v":-5.99},{"t":1.905,"v":-6.11},{"t":1.910,"v":-6.11},{"t":1.915,"v":-6.05},{"t":1.921,"v":-6.09},{"t":1.927,"v":-6.09},{"t":1.933,"v":-6.05},{"t":1.939,"v":-6.09},{"t":1.945,"v":-6.16},{"t":1.949,"v":-6.22},{"t":1.955,"v":-6.16},{"t":1.961,"v":-6.11},{"t":1.965,"v":-6.18},{"t":1.971,"v":-6.24},{"t":1.976,"v":-6.20},{"t":1.982,"v":-6.22},{"t":1.988,"v":-6.16},{"t":1.993,"v":-6.22},{"t":1.999,"v":-6.31},{"t":2.005,"v":-6.33},{"t":2.011,"v":-6.37},{"t":2.016,"v":-6.35},{"t":2.022,"v":-6.37},{"t":2.028,"v":-6.39},{"t":2.034,"v":-6.37},{"t":2.040,"v":-6.35},{"t":2.046,"v":-6.37},{"t":2.050,"v":-6.46},{"t":2.055,"v":-6.26},{"t":2.059,"v":-6.33},{"t":2.063,"v":-6.41},{"t":2.068,"v":-6.29},{"t":2.072,"v":-6.39},{"t":2.076,"v":-6.50},{"t":2.081,"v":-6.41},{"t":2.087,"v":-6.33},{"t":2.093,"v":-6.31},{"t":2.099,"v":-6.37},{"t":2.104,"v":-6.41},{"t":2.110,"v":-6.37},{"t":2.116,"v":-6.29},{"t":2.121,"v":-6.37},
{"t":2.125,"v":-6.35},{"t":2.134,"v":-6.31},{"t":2.142,"v":-6.28},{"t":2.150,"v":-6.24},{"t":2.156,"v":-6.31},{"t":2.166,"v":-6.30},{"t":2.176,"v":-6.28},{"t":2.184,"v":-6.34},{"t":2.189,"v":-6.41},{"t":2.197,"v":-6.28},{"t":2.204,"v":-6.38},{"t":2.213,"v":-6.38},{"t":2.222,"v":-6.34},{"t":2.228,"v":-6.41},{"t":2.232,"v":-6.44},{"t":2.236,"v":-6.28},{"t":2.242,"v":-6.41},{"t":2.248,"v":-6.25},{"t":2.252,"v":-6.41},{"t":2.257,"v":-6.19},{"t":2.262,"v":-6.25},{"t":2.266,"v":-6.41},{"t":2.272,"v":-6.25},{"t":2.277,"v":-6.38},{"t":2.283,"v":-6.38},{"t":2.289,"v":-6.34},{"t":2.295,"v":-6.28},{"t":2.299,"v":-6.12},{"t":2.303,"v":-5.67},{"t":2.307,"v":-5.64},{"t":2.311,"v":-5.10},{"t":2.316,"v":-4.78},{"t":2.320,"v":-4.52},{"t":2.324,"v":-4.43},{"t":2.329,"v":-4.40},{"t":2.333,"v":-4.27},{"t":2.338,"v":-3.82},{"t":2.342,"v":-3.31},{"t":2.346,"v":-3.18},{"t":2.351,"v":-2.93},{"t":2.356,"v":-2.70},{"t":2.360,"v":-2.54},{"t":2.364,"v":-2.42},{"t":2.368,"v":-2.19},{"t":2.373,"v":-2.06},{"t":2.379,"v":-1.90},{"t":2.385,"v":-1.52},{"t":2.391,"v":-1.20},{"t":2.398,"v":-1.07},{"t":2.402,"v":-0.88},{"t":2.408,"v":-0.63},{"t":2.414,"v":-0.43},{"t":2.420,"v":-0.18},{"t":2.426,"v":-0.02},{"t":2.433,"v":0.01},{"t":2.439,"v":0.04},{"t":2.444,"v":0.20},{"t":2.449,"v":0.30},{"t":2.456,"v":0.33},{"t":2.462,"v":0.36},{"t":2.468,"v":0.52},{"t":2.474,"v":0.62},{"t":2.480,"v":0.65},{"t":2.487,"v":0.72},{"t":2.493,"v":0.91},{"t":2.500,"v":1.00},{"t":2.508,"v":1.19},
{"t":2.510,"v":1.26},{"t":2.518,"v":1.39},{"t":2.524,"v":1.51},{"t":2.530,"v":1.67},{"t":2.537,"v":1.77},{"t":2.544,"v":1.85},{"t":2.550,"v":1.96},{"t":2.557,"v":2.07},{"t":2.565,"v":2.09},{"t":2.573,"v":2.12},{"t":2.583,"v":2.13},{"t":2.591,"v":2.13},{"t":2.598,"v":2.12},{"t":2.606,"v":2.09},{"t":2.612,"v":2.03},{"t":2.620,"v":1.93},{"t":2.627,"v":1.85},{"t":2.634,"v":1.75},{"t":2.641,"v":1.64},{"t":2.647,"v":1.51},{"t":2.653,"v":1.39},{"t":2.659,"v":1.23},{"t":2.665,"v":1.10},{"t":2.674,"v":0.97},{"t":2.679,"v":0.81},{"t":2.684,"v":0.65},{"t":2.690,"v":0.52},{"t":2.696,"v":0.40},{"t":2.703,"v":0.20},{"t":2.709,"v":0.11},{"t":2.715,"v":0.01},{"t":2.722,"v":-0.08},{"t":2.729,"v":-0.18},{"t":2.737,"v":-0.27},{"t":2.744,"v":-0.34},{"t":2.751,"v":-0.40},{"t":2.759,"v":-0.45},{"t":2.766,"v":-0.47},{"t":2.773,"v":-0.45},{"t":2.782,"v":-0.39},{"t":2.791,"v":-0.38},{"t":2.800,"v":-0.37},{"t":2.809,"v":-0.31},{"t":2.816,"v":-0.24},{"t":2.823,"v":-0.18},{"t":2.832,"v":-0.12},{"t":2.841,"v":-0.02},{"t":2.847,"v":0.04},{"t":2.853,"v":0.14},{"t":2.861,"v":0.20},{"t":2.868,"v":0.30},{"t":2.876,"v":0.36}
]
},
"encoding": {
  "y": {
    "field": "v", "type": "quantitative",
    "scale": {"domain": [-9, 3], "nice": false, "zero": false},
    "axis": {
      "orient": "left",
      "values": [-9, -7, -5, -3, -1, 1, 3],
      "labelExpr": "'' + datum.value",
      "grid": true, "gridColor": "#a6a6a6", "gridWidth": 1.5,
      "domain": false,
      "ticks": true, "tickColor": "#868686", "tickSize": 8, "tickWidth": 1.5,
      "labelFont": "DejaVu Sans", "labelFontSize": 28, "labelColor": "#000000", "labelPadding": 8,
      "title": "Podélné zrychlení [m/s2]",
      "titleFont": "Liberation Sans", "titleFontSize": 23, "titleFontWeight": "bold", "titleColor": "#000000",
      "titleX": -87, "titleY": 187, "titleAngle": 270, "titleAlign": "center", "titleBaseline": "middle"
    }
  }
},
"layer": [
  {
    "data": {"name": "a"},
    "mark": {"type": "line", "strokeWidth": 4, "clip": true},
    "encoding": {
      "x": {
        "field": "t", "type": "quantitative",
        "scale": {"domain": [0, 2.878], "nice": false, "zero": false},
        "axis": {
          "orient": "bottom",
          "values": [0, 0.25, 0.5, 0.75, 1, 1.25, 1.5, 1.75, 2, 2.25, 2.5, 2.75],
          "labelExpr": "replace(format(datum.value, '.2f'), '.', ',')",
          "offset": -708, "domain": false, "ticks": false, "tickSize": 0, "grid": false,
          "labelPadding": 30, "labelFont": "DejaVu Sans", "labelFontSize": 28, "labelColor": "#000000",
          "labelOverlap": false, "labelFlush": false, "title": null
        }
      },
      "color": {
        "datum": "GoodYear 50 sucho 120 kPa", "type": "nominal",
        "scale": {
          "domain": ["GoodYear 50 sucho 120 kPa", "Good Year 50 sucho 220 kPa", "Good Year 50 sucho 320 kPa"],
          "range": ["#000080", "#ff00ff", "#339966"]
        },
        "legend": {
          "orient": "none", "legendX": 590, "legendY": -6, "direction": "vertical", "title": null,
          "fillColor": "#ffffff", "strokeColor": "#8c8c8c", "padding": 8,
          "symbolType": "M-2,0L2,0", "symbolSize": 841, "symbolStrokeWidth": 5, "symbolOffset": 14.5,
          "labelOffset": 21, "rowPadding": 15,
          "labelFont": "DejaVu Sans", "labelFontSize": 30, "labelColor": "#000000", "labelLimit": 700
        }
      }
    }
  },
  {
    "data": {"name": "b"},
    "mark": {"type": "line", "strokeWidth": 4, "clip": true},
    "encoding": {
      "x": {
        "field": "t", "type": "quantitative",
        "axis": {
          "orient": "bottom",
          "values": [0.0022,0.0321,0.0620,0.0919,0.1218,0.1516,0.1815,0.2114,0.2413,0.2712,0.3010,0.3309,0.3608,0.3907,0.4206,0.4504,0.4803,0.5102,0.5401,0.5700,0.5998,0.6297,0.6596,0.6895,0.7194,0.7492,0.7791,0.8090,0.8389,0.8688,0.8986,0.9285,0.9584,0.9883,1.0182,1.0480,1.0779,1.1078,1.1377,1.1676,1.1974,1.2273,1.2572,1.2871,1.3170,1.3468,1.3767,1.4066,1.4365,1.4664,1.4962,1.5261,1.5560,1.5859,1.6158,1.6456,1.6755,1.7054,1.7353,1.7652,1.7950,1.8249,1.8548,1.8847,1.9146,1.9444,1.9743,2.0042,2.0341,2.0640,2.0938,2.1237,2.1536,2.1835,2.2134,2.2432,2.2731,2.3030,2.3329,2.3628,2.3926,2.4225,2.4524,2.4823,2.5122,2.5420,2.5719,2.6018,2.6317,2.6616,2.6914,2.7213,2.7512,2.7811,2.8110,2.8408,2.8707],
          "offset": -708, "labels": false, "ticks": true, "tickSize": 7, "tickColor": "#a0a0a0", "tickWidth": 1.5,
          "domain": true, "domainColor": "#909090", "domainWidth": 1.5, "grid": false, "title": null
        }
      },
      "color": {"datum": "Good Year 50 sucho 220 kPa", "type": "nominal"}
    }
  },
  {
    "data": {"name": "c"},
    "mark": {"type": "line", "strokeWidth": 4, "clip": true},
    "encoding": {
      "x": {
        "field": "t", "type": "quantitative",
        "axis": {
          "orient": "bottom",
          "labels": false, "ticks": false, "domain": false, "grid": false,
          "title": "Časová osa [s]",
          "titleFont": "DejaVu Sans", "titleFontSize": 22, "titleFontWeight": "bold", "titleColor": "#000000",
          "titleX": 1598, "titleY": 49, "titleAlign": "right", "titleBaseline": "middle"
        }
      },
      "color": {"datum": "Good Year 50 sucho 320 kPa", "type": "nominal"}
    }
  }
],
"resolve": {"axis": {"x": "independent"}}
}
